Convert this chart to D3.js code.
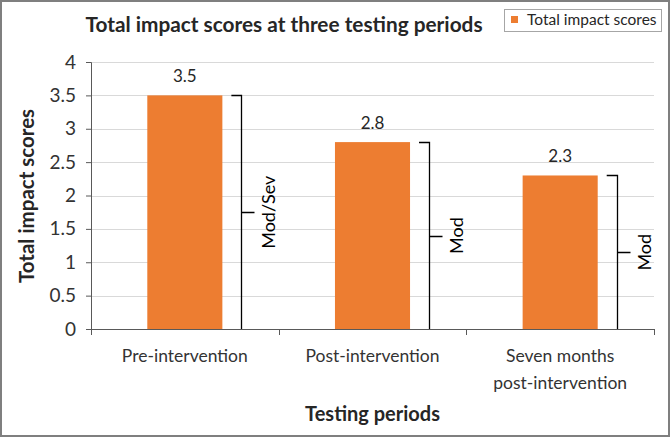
<!DOCTYPE html>
<html><head><meta charset="utf-8">
<script src="https://cdn.jsdelivr.net/npm/d3@7"></script>
<style>
html,body{margin:0;padding:0;background:#fff;}
svg{display:block;font-family:Lato,"Open Sans",sans-serif;}
</style></head>
<body>
<svg id="chart" width="670" height="437"></svg>
<script>
const categories = [["Pre-intervention"], ["Post-intervention"], ["Seven months", "post-intervention"]];
const values = [3.5, 2.8, 2.3];
const severity = ["Mod/Sev", "Mod", "Mod"];
const yTicks = [0, 0.5, 1, 1.5, 2, 2.5, 3, 3.5, 4];
const seriesName = "Total impact scores";
const title = "Total impact scores at three testing periods";
const xTitle = "Testing periods";
const yTitle = "Total impact scores";

const svg = d3.select("#chart");
const W = 670, H = 437;
const m = {left: 91, right: 16, top: 62, bottom: 107};
const x = d3.scaleBand().domain(d3.range(values.length)).range([m.left, W - m.right]).paddingInner(0.6).paddingOuter(0.3);
const y = d3.scaleLinear().domain([0, 4]).range([H - m.bottom - 1, m.top]);
const ORANGE = "#ED7D31";

// outer border
svg.append("rect").attr("x", 1).attr("y", 1).attr("width", W - 2).attr("height", H - 2)
  .attr("fill", "#fff").attr("stroke", "#7f7f7f").attr("stroke-width", 2);

// gridlines
svg.append("g").selectAll("line").data(yTicks.filter(d => d > 0)).join("line")
  .attr("x1", m.left).attr("x2", W - m.right)
  .attr("y1", d => Math.round(y(d)) + 0.5).attr("y2", d => Math.round(y(d)) + 0.5)
  .attr("stroke", "#d9d9d9").attr("stroke-width", 1);

// bars
svg.append("g").selectAll("rect").data(values).join("rect")
  .attr("x", (d, i) => x(i)).attr("width", x.bandwidth())
  .attr("y", d => y(d)).attr("height", d => y(0) - y(d))
  .attr("fill", ORANGE);

// value labels
svg.append("g").selectAll("text").data(values).join("text")
  .attr("x", (d, i) => x(i) + x.bandwidth() / 2).attr("y", d => y(d) - 13)
  .attr("text-anchor", "middle").attr("font-size", 17).attr("fill", "#262626")
  .text(d => d.toFixed(1));

// brackets
const br = svg.append("g");
values.forEach((v, i) => {
  const xr = x(i) + x.bandwidth();
  const lx = Math.round(xr + 19) + 0.5;
  const top = Math.round(y(v)) + 0.5;
  const mid = (y(v) + y(0)) / 2;
  br.append("path")
    .attr("d", `M${xr + 9},${top}H${lx}V${y(0)}M${lx},${Math.round(mid) + 0.5}H${lx + 13}`)
    .attr("fill", "none").attr("stroke", "#000").attr("stroke-width", 1.3);
  br.append("text")
    .attr("transform", `translate(${lx + 33},${mid}) rotate(-90)`)
    .attr("text-anchor", "middle").attr("font-size", 18).attr("fill", "#000")
    .text(severity[i]);
});

// y axis
const yAxis = svg.append("g").attr("transform", `translate(${m.left},0)`)
  .call(d3.axisLeft(y).tickValues(yTicks).tickSize(5).tickPadding(10).tickFormat(d3.format("")));
yAxis.select(".domain").attr("stroke", "#595959");
yAxis.selectAll(".tick line").attr("stroke", "#595959");
yAxis.selectAll("text").attr("font-size", 19).attr("fill", "#333").attr("font-family", "Lato,sans-serif");

// x axis
const xAxisG = svg.append("g").attr("transform", `translate(0,${y(0)})`);
xAxisG.append("line").attr("x1", m.left).attr("x2", W - m.right).attr("y1", 0.5).attr("y2", 0.5).attr("stroke", "#595959");
const edges = d3.range(values.length + 1).map(i => m.left + i * x.step());
xAxisG.selectAll("line.t").data(edges).join("line").attr("class", "t")
  .attr("x1", d => Math.round(d) + 0.5).attr("x2", d => Math.round(d) + 0.5).attr("y1", 0).attr("y2", 6)
  .attr("stroke", "#595959");
categories.forEach((lines, i) => {
  const t = xAxisG.append("text").attr("text-anchor", "middle").attr("font-size", 17.5).attr("fill", "#333")
    .attr("x", x(i) + x.bandwidth() / 2);
  lines.forEach((l, j) => t.append("tspan").attr("x", x(i) + x.bandwidth() / 2).attr("y", 33 + j * 27).text(l));
});

// axis titles
svg.append("text").attr("x", (m.left + W - m.right) / 2).attr("y", 421)
  .attr("text-anchor", "middle").attr("font-size", 20).attr("font-weight", "bold").attr("fill", "#262626")
  .text(xTitle);
svg.append("text").attr("transform", `translate(34,196) rotate(-90)`)
  .attr("text-anchor", "middle").attr("font-size", 20.5).attr("font-weight", "bold").attr("fill", "#262626")
  .text(yTitle);

// title
svg.append("text").attr("x", 284).attr("y", 32).attr("text-anchor", "middle")
  .attr("font-size", 20.8).attr("font-weight", "bold").attr("fill", "#262626").text(title);

// legend
const lg = svg.append("g");
lg.append("rect").attr("x", 504.5).attr("y", 9.5).attr("width", 157).attr("height", 22)
  .attr("fill", "#fff").attr("stroke", "#a6a6a6");
lg.append("rect").attr("x", 511).attr("y", 16).attr("width", 7).attr("height", 7).attr("fill", ORANGE);
lg.append("text").attr("x", 527).attr("y", 25).attr("font-size", 15.5).attr("fill", "#262626").text(seriesName);
</script>
</body></html>
